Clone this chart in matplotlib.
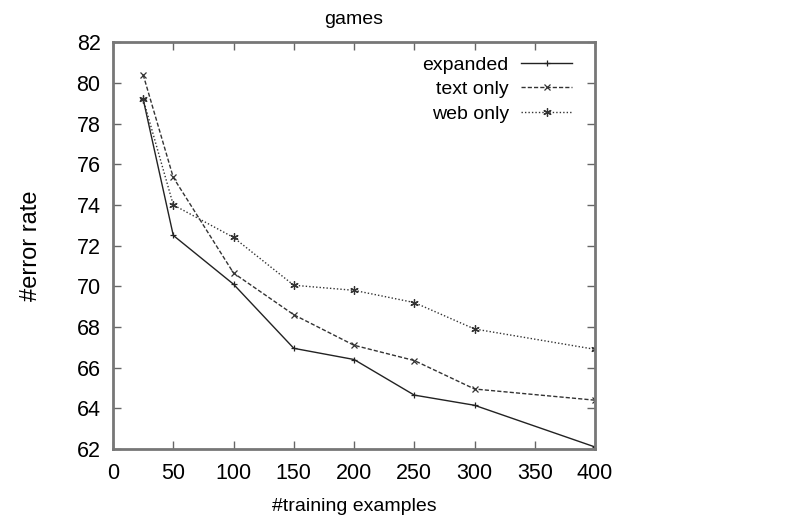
import numpy as np
import matplotlib.pyplot as plt

plt.rcParams['font.family'] = ['Liberation Sans', 'DejaVu Sans']

# numero de ejemplos de entrenamiento
n_train = [25, 50, 100, 150, 200, 250, 300, 400]

# tasa de error por configuracion
err_expanded = [79.2, 72.5, 70.1, 66.95, 66.4, 64.65, 64.15, 62.1]
err_text = [80.4, 75.35, 70.65, 68.6, 67.1, 66.35, 64.95, 64.4]
err_web = [79.2, 74.0, 72.4, 70.05, 69.8, 69.2, 67.9, 66.9]

x_ticks = [0, 50, 100, 150, 200, 250, 300, 350, 400]
y_ticks = [62, 64, 66, 68, 70, 72, 74, 76, 78, 80, 82]

fig = plt.figure(figsize=(7.96, 5.17), dpi=100)
ax = fig.add_axes([0.142, 0.1315, 0.6055, 0.787])

ax.plot(n_train, err_expanded, color='#222222', lw=1.0, ls='-',
        marker='+', ms=5, mew=0.9, label='expanded')
ax.plot(n_train, err_text, color='#333333', lw=1.0, ls=(0, (3, 1.5)),
        marker='x', ms=5, mew=0.9, label='text only')
ax.plot(n_train, err_web, color='#333333', lw=1.0, ls=(0, (1, 1.5)),
        marker=(6, 2, 0), ms=6, mew=0.9, label='web only')

ax.set_xlim(0, 400)
ax.set_ylim(62, 82)
ax.set_xticks(x_ticks)
ax.set_yticks(y_ticks)
ax.tick_params(direction='in', length=6, width=1, color='#666666',
               top=True, right=True, labelsize=15.5, pad=9)
ax.tick_params(axis='x', pad=10)
for s in ax.spines.values():
    s.set_color('#777777')
    s.set_linewidth(2)

ax.set_title('games', fontsize=14, pad=13)
ax.set_xlabel('#training examples', fontsize=14, labelpad=10)
ax.set_ylabel('#error rate', fontsize=17, labelpad=25)

leg = ax.legend(loc='upper right', frameon=False, markerfirst=False,
                fontsize=14, handlelength=2.6, handletextpad=0.65,
                labelspacing=0.36, borderaxespad=0, borderpad=0,
                bbox_to_anchor=(0.952, 0.966))

# etiquetas de la leyenda alineadas a la derecha, junto a las muestras
fig.canvas.draw()
renderer = fig.canvas.get_renderer()
boxes = [t.get_window_extent(renderer) for t in leg.get_texts()]
x_right = max(b.x1 for b in boxes)
for t, b in zip(leg.get_texts(), boxes):
    t.set_visible(False)
    fig.text(x_right / fig.bbox.width, (b.y0 + b.y1) / 2 / fig.bbox.height,
             t.get_text(), ha='right', va='center', fontsize=14)

fig.savefig('out.png', dpi=100)
